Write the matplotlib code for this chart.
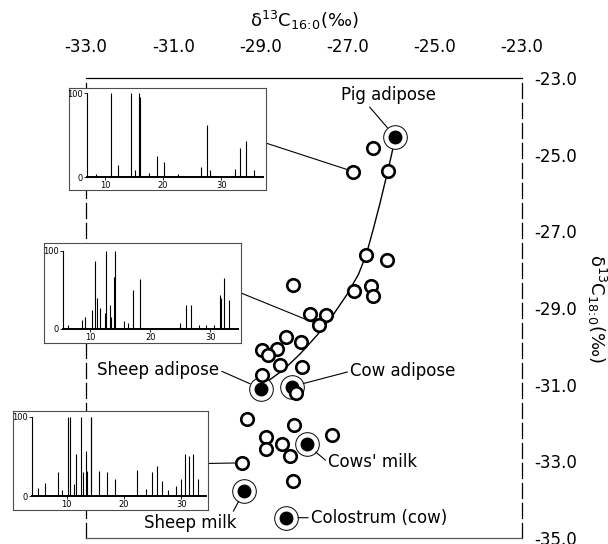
import numpy as np
import matplotlib.pyplot as plt
from matplotlib.patches import ConnectionPatch

W, H = 608, 544

# --- isotope values (delta13C 16:0, delta13C 18:0) ---
open_x = [-26.41, -26.07, -26.87, -26.58, -26.09, -28.26, -26.85, -26.47, -26.42, -27.86,
          -27.50, -27.65, -28.41, -28.08, -28.61, -28.97, -28.82, -28.55, -28.05, -28.97,
          -28.18, -29.31, -28.23, -27.36, -28.87, -28.87, -28.51, -28.31, -29.43, -28.26]
open_y = [-24.83, -25.42, -25.44, -27.63, -27.76, -28.39, -28.56, -28.42, -28.69, -29.16,
          -29.18, -29.44, -29.75, -29.88, -30.06, -30.10, -30.23, -30.49, -30.54, -30.75,
          -31.21, -31.89, -32.04, -32.30, -32.37, -32.68, -32.54, -32.87, -33.04, -33.52]

ref_names = ["Pig adipose", "Sheep adipose", "Cow adipose", "Cows' milk", "Sheep milk", "Colostrum (cow)"]
ref_x = [-25.91, -28.99, -28.28, -27.94, -29.37, -28.41]
ref_y = [-24.53, -31.10, -31.05, -32.56, -33.77, -34.47]
# label centre positions and where the leader leaves the text
lab_x = [-26.07, -31.35, -25.73, -26.42, -30.61, -26.28]
lab_y = [-23.45, -30.62, -30.65, -33.03, -34.61, -34.47]
lab_rel = [(0.28, 0.0), (1.0, 0.5), (0.0, 0.5), (0.0, 0.5), (0.95, 1.0), (0.0, 0.5)]

# mixing curve drawn by hand through the adipose fats
curve_x = [-25.91, -26.00, -26.12, -26.26, -26.42, -26.57, -26.75, -27.01, -27.32, -27.70,
           -28.09, -28.46, -28.83, -28.96]
curve_y = [-24.57, -25.04, -25.62, -26.28, -26.98, -27.60, -28.12, -28.64, -29.16, -29.71,
           -30.20, -30.60, -30.91, -31.07]

# --- chromatograms (retention time, relative abundance) ---
pig_rt = [8.5, 11.0, 12.3, 14.4, 15.2, 15.9, 16.1, 17.5, 18.9, 20.2, 22.5, 26.6, 27.5, 28.1,
          32.4, 33.3, 34.3, 35.6]
pig_h = [3, 100, 14, 100, 8, 100, 95, 5, 25, 18, 3, 12, 62, 8, 10, 34, 43, 8]

sheep_rt = [6.4, 8.6, 9.2, 10.3, 10.8, 11.1, 11.7, 12.5, 12.7, 13.3, 13.45, 14.0, 14.2, 15.7,
            16.3, 17.1, 18.3, 25.0, 26.0, 26.8, 28.1, 29.2, 30.6, 31.55, 31.8, 32.2, 33.05]
sheep_h = [5, 12, 16, 24, 87, 40, 27, 20, 100, 31, 15, 67, 100, 10, 8, 50, 64, 8, 31, 31,
           5, 5, 5, 43, 40, 65, 37]

milk_rt = [4.96, 6.2, 8.5, 9.1, 10.3, 10.6, 11.2, 11.6, 12.5, 12.9, 13.4, 13.6, 14.2, 14.3,
           15.7, 17.0, 18.4, 22.2, 23.8, 24.8, 25.8, 26.7, 27.7, 29.1, 30.0, 30.7, 31.4,
           32.0, 32.9]
milk_h = [10, 17, 30, 8, 100, 100, 15, 53, 100, 30, 57, 32, 100, 100, 32, 30, 21, 33, 9,
          30, 38, 19, 7, 13, 21, 53, 51, 53, 21]


def px_axes(l, t, r, b, **kw):
    return fig.add_axes([l / W, 1 - b / H, (r - l) / W, (b - t) / H], **kw)


fig = plt.figure(figsize=(W / 100, H / 100), dpi=100)
ax = px_axes(86, 78, 522, 538)
ax.set_xlim(-33, -23)
ax.set_ylim(-35, -23)
ax.set_xticks(np.arange(-33, -22, 2))
ax.set_yticks(np.arange(-35, -22, 2))
ax.xaxis.set_major_formatter(plt.FormatStrFormatter('%.1f'))
ax.yaxis.set_major_formatter(plt.FormatStrFormatter('%.1f'))
ax.tick_params(length=0, labelsize=12, labeltop=True, labelbottom=False,
               labelright=True, labelleft=False)
ax.tick_params(axis='x', pad=16)
ax.tick_params(axis='y', pad=9)
ax.xaxis.set_label_position('top')
ax.yaxis.set_label_position('right')
ax.set_xlabel(r'δ$^{13}$C$_{16\!:\!0}$(‰)', fontsize=13, labelpad=8)
ax.set_ylabel(r'δ$^{13}$C$_{18\!:\!0}$(‰)', fontsize=13, rotation=-90, labelpad=22)
for s in ax.spines.values():
    s.set_linewidth(0.9)
ax.spines['right'].set_linestyle((0, (12, 4)))
ax.spines['left'].set_linestyle((0, (12, 4)))
ax.spines['bottom'].set_color('0.35')

ax.plot(curve_x, curve_y, color='black', lw=1.0, zorder=2)
ax.plot(ref_x, ref_y, 'o', ms=17, mfc='white', mec='black', mew=0.7, zorder=3)
ax.plot(ref_x, ref_y, 'o', ms=9, mfc='black', mec='black', zorder=4)
ax.plot(open_x, open_y, 'o', ms=9, mfc='white', mec='black', mew=1.9, zorder=5)

for name, x, y, tx, ty, rel in zip(ref_names, ref_x, ref_y, lab_x, lab_y, lab_rel):
    ax.annotate(name, xy=(x, y), xytext=(tx, ty), fontsize=12, ha='center', va='center',
                arrowprops=dict(arrowstyle='-', lw=0.8, color='black', shrinkA=0,
                                shrinkB=8.5, relpos=rel), zorder=6)

# chromatogram insets: (box, inner plot, x range, data, target point)
insets = [
    ((69, 88, 266, 190), (87, 93, 263, 177), (6.9, 37.2), pig_rt, pig_h, 2, 0.46),
    ((44, 243, 241, 343), (62.7, 251, 238, 329), (5.45, 34.6), sheep_rt, sheep_h, 11, 0.5),
    ((13, 411, 208, 510), (31.7, 417, 206, 496), (3.9, 34.3), milk_rt, milk_h, 28, 0.47),
]
for box, inner, xr, rt, h, target, yfrac in insets:
    bx = px_axes(*box, zorder=7)
    bx.set_facecolor('white')
    bx.set_xticks([])
    bx.set_yticks([])
    for s in bx.spines.values():
        s.set_linewidth(0.8)
        s.set_color('0.3')
    cx = px_axes(*inner, zorder=8)
    cx.patch.set_visible(False)
    cx.vlines(rt, 0, h, color='black', lw=0.8)
    cx.set_xlim(*xr)
    cx.set_ylim(0, 100)
    cx.set_xticks([10, 20, 30])
    cx.set_yticks([0, 100])
    cx.tick_params(labelsize=6, length=2, width=0.6, pad=1)
    cx.spines['top'].set_visible(False)
    cx.spines['right'].set_visible(False)
    cx.spines['left'].set_linewidth(0.8)
    cx.spines['bottom'].set_linewidth(1.4)
    con = ConnectionPatch(xyA=(1, yfrac), coordsA=bx.transAxes,
                          xyB=(open_x[target], open_y[target]), coordsB=ax.transData,
                          color='black', lw=0.8, shrinkB=4.5, zorder=1)
    ax.add_artist(con)

fig.savefig('out.png', dpi=100)
